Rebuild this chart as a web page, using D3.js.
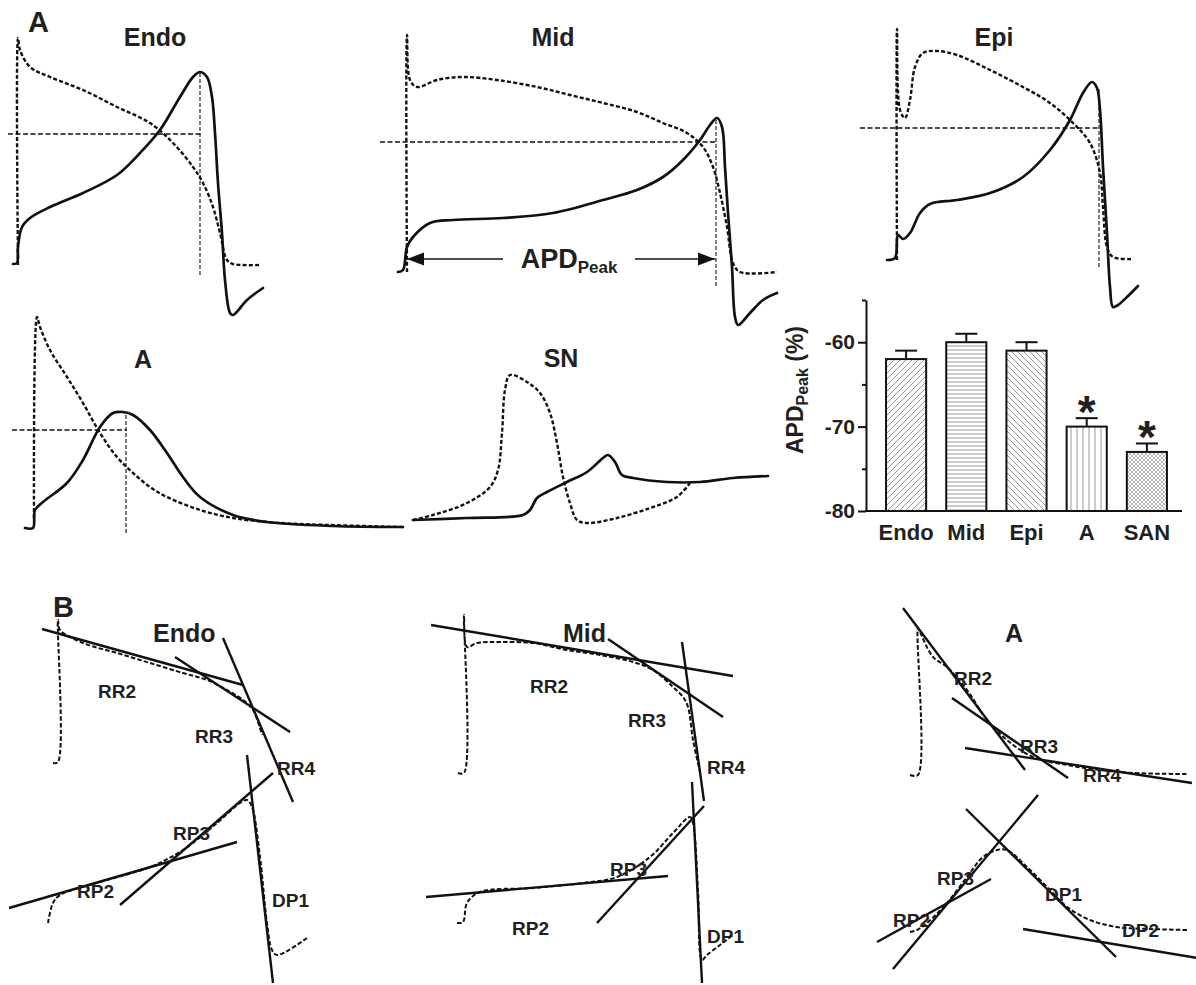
<!DOCTYPE html>
<html><head><meta charset="utf-8">
<script src="https://cdn.jsdelivr.net/npm/d3@7"></script>
<style>
html,body{margin:0;padding:0;background:#fff;}
svg{display:block;}
text{font-family:"Liberation Sans",Arial,Helvetica,sans-serif;font-weight:bold;fill:#231f20;}
</style>
</head><body>
<svg id="fig" width="1196" height="985"></svg>
<script>
// ================= DATA =================
// Panel A traces: [time, amplitude] in panel units (solid = AP, dotted = derivative/reference trace)
const endoAP = [[3,1],[7,2],[8,18],[12,38],[20,47],[40,58],[73,72],[107,90],[130,112],[150,135],[170,168],[183,188],[190,193],[197,188],[202,168],[205,132],[208,82],[212,32],[215,-15],[220,-48],[223,-50],[237,-35],[253,-23]];
const endoDV = [[8,0],[8,227],[10,215],[20,198],[40,188],[73,175],[107,158],[140,142],[163,122],[183,98],[193,82],[203,58],[210,32],[217,5],[223,1],[250,0]];
const midAP = [[0,0],[5,2],[9,25],[15,35],[32,49],[55,52],[105,54],[155,59],[205,72],[239,82],[265,95],[285,112],[302,132],[312,147],[319,154],[324,145],[327,105],[330,59],[334,5],[337,-45],[340,-53],[352,-41],[365,-28],[379,-21]];
const midDV = [[9,0],[9,237],[12,192],[19,185],[39,192],[65,195],[99,192],[139,185],[172,177],[205,169],[239,160],[265,149],[289,139],[305,125],[315,105],[322,79],[329,45],[335,9],[342,0],[379,0]];
const epiAP = [[0,0],[8,2],[11,25],[16,21],[23,27],[33,47],[43,56],[70,60],[103,67],[136,83],[163,110],[183,140],[196,167],[205,178],[210,172],[213,150],[216,93],[220,27],[223,-27],[226,-47],[231,-45],[240,-37],[251,-26]];
const epiDV = [[10,0],[10,231],[13,150],[18,142],[23,160],[28,193],[36,207],[50,209],[70,205],[103,190],[136,173],[163,157],[186,137],[203,117],[213,87],[216,53],[220,13],[226,3],[246,1]];
const atrAP = [[0,0],[8,0],[10,18],[18,26],[42,45],[58,68],[75,101],[88,115],[98,116],[108,113],[125,98],[142,75],[158,51],[175,31],[208,13],[242,6],[308,2],[378,1]];
const atrDV = [[9,10],[12,211],[15,201],[25,178],[42,151],[58,125],[75,95],[92,71],[108,55],[125,41],[142,31],[175,18],[208,10],[242,6],[275,4],[378,1]];
const snAP = [[0,0],[54,2],[110,5],[117,10],[124,22],[134,28],[154,38],[174,48],[190,62],[195,65],[202,58],[209,45],[220,42],[254,38],[287,38],[320,42],[355,44]];
const snDV = [[0,0],[20,5],[54,17],[77,33],[85,50],[89,87],[92,130],[97,145],[114,138],[127,127],[137,107],[144,77],[150,43],[157,17],[164,0],[174,-3],[204,2],[237,12],[264,23],[277,37]];
// APD_Peak guides: level of crossing, horizontal extent, time of peak, vertical extent
const guideEndo = {level:131, from:-2, to:193, peak:190, low:-10, high:193};
const guideMid  = {level:130, from:-18, to:317, peak:318, low:-14, high:152};
const guideEpi  = {level:132, from:-27, to:211, peak:212, low:-7, high:172};
const guideAtr  = {level:98, from:-13, to:102, peak:101, low:-5, high:115};
const apdArrow  = {level:13, start:9, end:317, gapStart:105, gapEnd:237};

// Bar chart
const categories = ["Endo","Mid","Epi","A","SAN"];
const apdMeans   = [-62,-60,-61,-70,-73];
const apdSEM     = [1,1,1,1,1];
const significant= [false,false,false,true,true];
const yTicks     = [-80,-70,-60];
const yMinor     = [-75,-65,-55];

// Panel B: repolarisation/depolarisation traces and fitted tangents [x1,y1,x2,y2]
const bEndoRep = [[53,222],[58,223],[58,365],[60,355],[83,342],[117,332],[150,322],[183,312],[207,305],[227,295],[243,285],[253,275],[262,250]];
const bEndoDep = [[48,62],[53,82],[60,90],[100,103],[150,118],[183,135],[217,162],[240,182],[247,185],[252,178],[260,128],[267,62],[272,35],[277,30],[307,47]];
const bEndoFits = [[42,356,243,300],[175,328,290,253],[223,347,293,183],[120,80,273,212],[9,77,237,143],[247,230,273,2]];
const bEndoLabels = [["RR2",98,287],["RR3",195,242],["RR4",277,210],["RP3",173,145],["RP2",77,87],["DP1",272,78]];

const bMidRep = [[58,212],[64,212],[64,370],[67,338],[77,342],[100,343],[133,342],[167,335],[200,330],[233,323],[253,315],[273,298],[283,288],[288,278],[293,245],[300,213]];
const bMidDep = [[57,62],[63,63],[67,82],[80,93],[133,97],[183,102],[217,108],[250,128],[273,152],[290,168],[293,162],[298,95],[302,25],[307,30],[320,40],[333,50]];
const bMidFits = [[31,360,333,309],[208,346,323,268],[282,343,304,184],[26,88,268,109],[197,62,304,179],[292,203,302,2]];
const bMidLabels = [["RR2",130,292],["RR3",228,258],["RR4",307,211],["RP3",210,109],["RP2",112,50],["DP1",307,42]];

const bAtrRep = [[110,210],[118,210],[118,357],[120,353],[133,328],[147,318],[167,295],[187,265],[207,245],[233,228],[267,220],[300,215],[333,212],[387,211]];
const bAtrDep = [[110,53],[117,55],[127,62],[147,82],[167,108],[183,128],[197,135],[207,135],[227,118],[250,95],[267,78],[290,65],[317,58],[350,56],[387,55]];
const bAtrFits = [[103,377,225,215],[152,287,268,207],[165,237,392,202],[93,16,238,190],[77,43,191,106],[166,176,316,28],[223,56,397,27]];
const bAtrLabels = [["RR2",154,300],["RR3",220,232],["RR4",283,203],["RP3",137,100],["RP2",93,58],["DP1",245,84],["DP2",322,48]];

// ================= DRAW =================
const svg = d3.select("#fig");
svg.append("rect").attr("width",1196).attr("height",985).attr("fill","#fff");
const INK = "#111";

function panel(x0,y0){
  return {x:d3.scaleLinear().domain([0,100]).range([x0,x0+100]),
          y:d3.scaleLinear().domain([0,100]).range([y0,y0-100])};
}
function trace(p,data,w,dash){
  const line = d3.line().x(d=>p.x(d[0])).y(d=>p.y(d[1])).curve(d3.curveCatmullRom.alpha(0.5));
  svg.append("path").attr("d",line(data)).attr("fill","none").attr("stroke",INK)
    .attr("stroke-width",w).attr("stroke-dasharray",dash||null)
    .attr("stroke-linejoin","round").attr("stroke-linecap",dash?"butt":"round");
}
function seg(p,x1,y1,x2,y2,w,dash){
  svg.append("line").attr("x1",p.x(x1)).attr("y1",p.y(y1)).attr("x2",p.x(x2)).attr("y2",p.y(y2))
    .attr("stroke",INK).attr("stroke-width",w).attr("stroke-dasharray",dash||null);
}
function guides(p,g){
  seg(p,g.from,g.level,g.to,g.level,1.3,"5,2.5");
  seg(p,g.peak,g.low,g.peak,g.high,1.1,"4,2");
}
function label(txt,x,y,size,anchor){
  return svg.append("text").attr("x",x).attr("y",y).attr("font-size",size).attr("text-anchor",anchor||"middle").text(txt);
}

const DOT = "4,2.2";
const DW = 2.4;
// Panel A - Endo
const pEndo = panel(10,265);
guides(pEndo,guideEndo);
trace(pEndo,endoDV,DW,DOT);
trace(pEndo,endoAP,2.7);
// Mid
const pMid = panel(398,272);
guides(pMid,guideMid);
trace(pMid,midDV,DW,DOT);
trace(pMid,midAP,2.7);
// APD arrow
seg(pMid,apdArrow.start,apdArrow.level,apdArrow.gapStart,apdArrow.level,1.6);
seg(pMid,apdArrow.gapEnd,apdArrow.level,apdArrow.end,apdArrow.level,1.6);
function arrowHead(p,xTip,y,dir){
  const L=17,Hh=6.5;
  const tx=p.x(xTip), ty=p.y(y);
  svg.append("path").attr("d",`M${tx},${ty}L${tx+dir*L},${ty-Hh}L${tx+dir*L},${ty+Hh}Z`).attr("fill",INK);
}
arrowHead(pMid,apdArrow.start,apdArrow.level,1);
arrowHead(pMid,apdArrow.end,apdArrow.level,-1);
{
  const t = svg.append("text").attr("x",pMid.x((apdArrow.gapStart+apdArrow.gapEnd)/2)).attr("y",pMid.y(apdArrow.level)+9)
    .attr("text-anchor","middle").attr("font-size",27);
  t.append("tspan").text("APD");
  t.append("tspan").attr("font-size",17).attr("dy",5).text("Peak");
}
// Epi
const pEpi = panel(887,260);
guides(pEpi,guideEpi);
trace(pEpi,epiDV,DW,DOT);
trace(pEpi,epiAP,2.7);
// Atrial
const pAtr = panel(25,528);
guides(pAtr,guideAtr);
trace(pAtr,atrDV,DW,DOT);
trace(pAtr,atrAP,2.7);
// SN
const pSN = panel(413,520);
trace(pSN,snDV,DW,DOT);
trace(pSN,snAP,2.7);

// Titles panel A
label("A",28,32,29,"start");
label("Endo",155,46,25);
label("Mid",553,46,25);
label("Epi",994,46,25);
label("A",143,368,25);
label("SN",561,367,25);

// ================= BAR CHART =================
const defs = svg.append("defs");
const PC = "#8c8c8c";
function pattern(id,size,d,sw){
  const pt = defs.append("pattern").attr("id",id).attr("patternUnits","userSpaceOnUse").attr("width",size).attr("height",size);
  pt.append("rect").attr("width",size).attr("height",size).attr("fill","#fff");
  pt.append("path").attr("d",d).attr("stroke",PC).attr("stroke-width",sw||0.9).attr("fill","none");
}
pattern("p0",6,"M0,6L6,0M-1,1L1,-1M5,7L7,5");
pattern("p1",4,"M0,2H4");
pattern("p2",6,"M0,0L6,6M-1,5L1,7M5,-1L7,1");
pattern("p3",6,"M3,0V6");
pattern("p4",4,"M0,4L4,0M-1,1L1,-1M3,5L5,3M0,0L4,4M-1,3L1,5M3,-1L5,1",0.6);

const bx = d3.scaleBand().domain(categories).range([876,1177]).paddingInner(1/3).paddingOuter(1/6);
const by = d3.scaleLinear().domain([-80,-55]).range([511,300]);

const gy = svg.append("g").attr("transform","translate(866,0)")
  .call(d3.axisLeft(by).tickValues(yTicks).tickSize(8).tickSizeOuter(0).tickPadding(3).tickFormat(d=>String(d)));
gy.select(".domain").attr("stroke",INK).attr("stroke-width",2);
gy.selectAll(".tick line").attr("stroke",INK).attr("stroke-width",2);
gy.selectAll(".tick text").attr("font-size",21).attr("font-family",null).attr("fill","#231f20");
const gm = svg.append("g").attr("transform","translate(866,0)")
  .call(d3.axisLeft(by).tickValues(yMinor).tickSize(4).tickFormat(""));
gm.select(".domain").remove();
gm.selectAll(".tick line").attr("stroke",INK).attr("stroke-width",2);

svg.append("line").attr("x1",865).attr("x2",1182).attr("y1",by(-80)).attr("y2",by(-80)).attr("stroke",INK).attr("stroke-width",2);
const gx = svg.append("g").attr("transform",`translate(0,${by(-80)})`)
  .call(d3.axisBottom(bx).tickSize(0).tickPadding(13));
gx.select(".domain").remove();
gx.selectAll(".tick text").attr("font-size",22).attr("font-family",null).attr("fill","#231f20");

categories.forEach((c,i)=>{
  const v = apdMeans[i], cx = bx(c)+bx.bandwidth()/2;
  svg.append("line").attr("x1",cx).attr("x2",cx).attr("y1",by(v)).attr("y2",by(v+apdSEM[i])).attr("stroke",INK).attr("stroke-width",2);
  svg.append("line").attr("x1",cx-11).attr("x2",cx+11).attr("y1",by(v+apdSEM[i])).attr("y2",by(v+apdSEM[i])).attr("stroke",INK).attr("stroke-width",2);
  svg.append("rect").attr("x",bx(c)).attr("y",by(v)).attr("width",bx.bandwidth()).attr("height",by(-80)-by(v))
    .attr("fill",`url(#p${i})`).attr("stroke",INK).attr("stroke-width",2);
  if(significant[i]) label("*",cx,by(v+apdSEM[i])+10,46);
});
{
  const t = svg.append("text").attr("transform","translate(803,390) rotate(-90)").attr("text-anchor","middle").attr("font-size",23);
  t.append("tspan").text("APD");
  t.append("tspan").attr("font-size",16).attr("dy",5).text("Peak");
  t.append("tspan").attr("dy",-5).text(" (%)");
}

// ================= PANEL B =================
function drawB(p,rep,dep,fits,labels){
  trace(p,rep,2,"4.5,2.2");
  trace(p,dep,2,"4.5,2.2");
  fits.forEach(f=>seg(p,f[0],f[1],f[2],f[3],2.4));
  labels.forEach(l=>label(l[0],p.x(l[1]),p.y(l[2]),19,"start"));
}
const pbEndo = panel(0,985), pbMid = panel(400,985), pbAtr = panel(800,985);
drawB(pbEndo,bEndoRep,bEndoDep,bEndoFits,bEndoLabels);
drawB(pbMid,bMidRep,bMidDep,bMidFits,bMidLabels);
drawB(pbAtr,bAtrRep,bAtrDep,bAtrFits,bAtrLabels);
label("B",53,617,29,"start");
label("Endo",153,642,25,"start");
label("Mid",563,642,25,"start");
label("A",1005,642,25,"start");
</script>
</body></html>
